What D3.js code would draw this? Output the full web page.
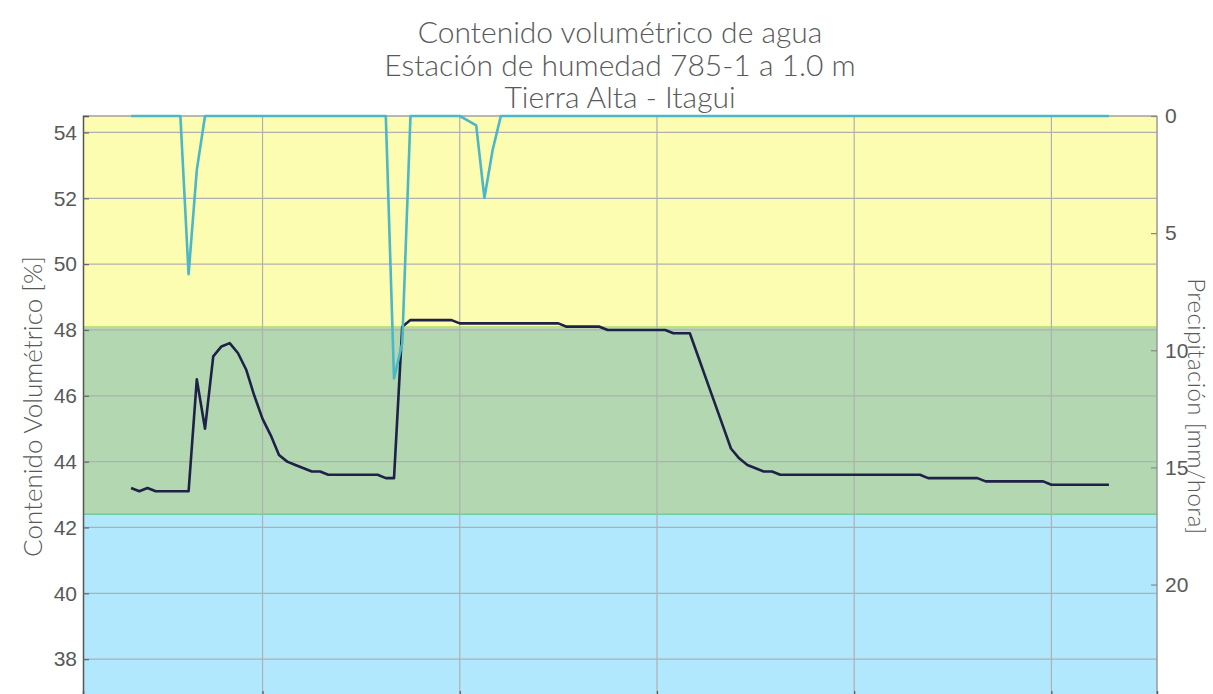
<!DOCTYPE html>
<html>
<head>
<meta charset="utf-8">
<script src="https://cdn.jsdelivr.net/npm/d3@7"></script>
<style>
  html, body { margin: 0; padding: 0; background: #fff; }
  svg { display: block; font-family: "Lato", "Open Sans", sans-serif; }
</style>
</head>
<body>
<svg id="chart" width="1213" height="694"></svg>
<script>
// Title lines
const titleLines = [
  "Contenido volumétrico de agua",
  "Estación de humedad 785-1 a 1.0 m",
  "Tierra Alta - Itagui"
];

// Hourly soil volumetric water content [%]
const soilMoisture = [
  43.2, 43.1, 43.2, 43.1, 43.1, 43.1, 43.1, 43.1, 46.5, 45.0, 47.2, 47.5,
  47.6, 47.3, 46.8, 46.0, 45.3, 44.8, 44.2, 44.0, 43.9, 43.8, 43.7, 43.7,
  43.6, 43.6, 43.6, 43.6, 43.6, 43.6, 43.6, 43.5, 43.5, 48.1, 48.3, 48.3,
  48.3, 48.3, 48.3, 48.3, 48.2, 48.2, 48.2, 48.2, 48.2, 48.2, 48.2, 48.2,
  48.2, 48.2, 48.2, 48.2, 48.2, 48.1, 48.1, 48.1, 48.1, 48.1, 48.0, 48.0,
  48.0, 48.0, 48.0, 48.0, 48.0, 48.0, 47.9, 47.9, 47.9, 47.2, 46.5, 45.8,
  45.1, 44.4, 44.1, 43.9, 43.8, 43.7, 43.7, 43.6, 43.6, 43.6, 43.6, 43.6,
  43.6, 43.6, 43.6, 43.6, 43.6, 43.6, 43.6, 43.6, 43.6, 43.6, 43.6, 43.6,
  43.6, 43.5, 43.5, 43.5, 43.5, 43.5, 43.5, 43.5, 43.4, 43.4, 43.4, 43.4,
  43.4, 43.4, 43.4, 43.4, 43.3, 43.3, 43.3, 43.3, 43.3, 43.3, 43.3, 43.3
];

// Hourly precipitation [mm/hora]
const precipitation = [
  0, 0, 0, 0, 0, 0, 0, 6.75, 2.3, 0, 0, 0, 0, 0, 0, 0, 0, 0, 0, 0, 0, 0, 0, 0,
  0, 0, 0, 0, 0, 0, 0, 0, 11.2, 9.7, 0, 0, 0, 0, 0, 0, 0, 0.2, 0.4, 3.5, 1.45, 0, 0, 0,
  0, 0, 0, 0, 0, 0, 0, 0, 0, 0, 0, 0, 0, 0, 0, 0, 0, 0, 0, 0, 0, 0, 0, 0,
  0, 0, 0, 0, 0, 0, 0, 0, 0, 0, 0, 0, 0, 0, 0, 0, 0, 0, 0, 0, 0, 0, 0, 0,
  0, 0, 0, 0, 0, 0, 0, 0, 0, 0, 0, 0, 0, 0, 0, 0, 0, 0, 0, 0, 0, 0, 0, 0
];

// Hour index of each reading, and hours where a new day begins
const hours = soilMoisture.map((_, i) => i);
const dayStartHours = [16, 40, 64, 88, 112];

// Axis ticks
const moistureTicks = [38, 40, 42, 44, 46, 48, 50, 52, 54];
const rainTicks = [0, 5, 10, 15, 20];

// Moisture bands: upper limit of the dry band and lower limit of the saturated band
const saturatedLimit = 48.1;
const dryLimit = 42.4;

const svg = d3.select("#chart");
const plotLeft = 83, plotRight = 1157, plotTop = 116, plotBottom = 697;

const x = d3.scaleLinear().domain([-5.85, 124.85]).range([plotLeft, plotRight]);
const y = d3.scaleLinear().domain([36.85, 54.5]).range([plotBottom, plotTop]);
const yRain = d3.scaleLinear().domain([0, 24.8]).range([plotTop, plotBottom]);

const textColor = "#595959";

// Background bands
const bands = [
  { from: y.domain()[1], to: saturatedLimit, fill: "#fdfdb2" },
  { from: saturatedLimit, to: dryLimit, fill: "#b2d7b1" },
  { from: dryLimit, to: y.domain()[0], fill: "#b2e8fd" }
];
svg.append("g").selectAll("rect").data(bands).join("rect")
  .attr("x", plotLeft).attr("width", plotRight - plotLeft)
  .attr("y", d => y(d.from)).attr("height", d => y(d.to) - y(d.from))
  .attr("fill", d => d.fill);

// Band borders
svg.append("line")
  .attr("x1", plotLeft).attr("x2", plotRight)
  .attr("y1", y(saturatedLimit)).attr("y2", y(saturatedLimit))
  .attr("stroke", "#c6e27c").attr("stroke-width", 1.5);
svg.append("line")
  .attr("x1", plotLeft).attr("x2", plotRight)
  .attr("y1", y(dryLimit)).attr("y2", y(dryLimit))
  .attr("stroke", "#72cba3").attr("stroke-width", 1.5);

// Grid
const grid = svg.append("g").attr("stroke", "#b0b0b0").attr("stroke-width", 1.2);
grid.selectAll(".h").data(moistureTicks).join("line")
  .attr("x1", plotLeft).attr("x2", plotRight)
  .attr("y1", d => y(d)).attr("y2", d => y(d));
grid.selectAll(".v").data(dayStartHours).join("line")
  .attr("x1", d => x(d)).attr("x2", d => x(d))
  .attr("y1", plotTop).attr("y2", plotBottom);

// Frame
svg.append("line").attr("x1", plotLeft).attr("x2", plotRight).attr("y1", plotTop).attr("y2", plotTop)
  .attr("stroke", "#a0a0a0").attr("stroke-width", 1.5);
svg.append("line").attr("x1", plotRight).attr("x2", plotRight).attr("y1", plotTop).attr("y2", plotBottom)
  .attr("stroke", "#9a9a9a").attr("stroke-width", 1.5);

// Left axis
const yAxis = svg.append("g").attr("transform", `translate(${plotLeft},0)`)
  .call(d3.axisRight(y).tickValues(moistureTicks).tickSize(6).tickFormat(d3.format("d")));
yAxis.select(".domain").attr("stroke", "#555").attr("stroke-width", 1.5);
yAxis.selectAll(".tick line").attr("stroke", "#666").attr("stroke-width", 1.2);
yAxis.selectAll(".tick text")
  .attr("x", -6).attr("text-anchor", "end")
  .attr("fill", textColor).attr("font-size", 21).attr("font-weight", 300);

// Right axis
const yRainAxis = svg.append("g").attr("transform", `translate(${plotRight},0)`)
  .call(d3.axisLeft(yRain).tickValues(rainTicks).tickSize(6));
yRainAxis.select(".domain").remove();
yRainAxis.selectAll(".tick line").attr("stroke", "#888").attr("stroke-width", 1.2);
yRainAxis.selectAll(".tick text")
  .attr("x", 8).attr("text-anchor", "start")
  .attr("fill", textColor).attr("font-size", 21).attr("font-weight", 300);

// Bottom axis (day boundaries)
const xAxis = svg.append("g").attr("transform", `translate(0,${plotBottom})`)
  .call(d3.axisTop(x).tickValues(dayStartHours).tickSize(6).tickFormat(""));
xAxis.select(".domain").attr("stroke", "#555").attr("stroke-width", 1.5);
xAxis.selectAll(".tick line").attr("stroke", "#555").attr("stroke-width", 1.2);

// Soil moisture line
const soilLine = d3.line().x((d, i) => x(hours[i])).y(d => y(d));
svg.append("path").datum(soilMoisture)
  .attr("d", soilLine)
  .attr("fill", "none").attr("stroke", "#1e2148").attr("stroke-width", 2.6)
  .attr("stroke-linejoin", "round");

// Precipitation line (inverted scale from the top)
const rainLine = d3.line().x((d, i) => x(hours[i])).y(d => yRain(d));
svg.append("path").datum(precipitation)
  .attr("d", rainLine)
  .attr("fill", "none").attr("stroke", "#4cb7c7").attr("stroke-width", 2.6)
  .attr("stroke-linejoin", "round");

// Title
svg.append("g").selectAll("text").data(titleLines).join("text")
  .attr("x", (plotLeft + plotRight) / 2).attr("y", (d, i) => 43 + i * 32.5)
  .attr("text-anchor", "middle")
  .attr("fill", textColor).attr("font-size", 30).attr("font-weight", 300)
  .text(d => d);

// Axis titles
svg.append("text")
  .attr("transform", `translate(42,${(plotTop + plotBottom) / 2}) rotate(-90)`)
  .attr("text-anchor", "middle")
  .attr("fill", textColor).attr("font-size", 26).attr("font-weight", 300)
  .text("Contenido Volumétrico [%]");
svg.append("text")
  .attr("transform", `translate(1188,${(plotTop + plotBottom) / 2}) rotate(90)`)
  .attr("text-anchor", "middle")
  .attr("fill", textColor).attr("font-size", 24).attr("font-weight", 300)
  .attr("letter-spacing", 0.4)
  .text("Precipitación [mm/hora]");
</script>
</body>
</html>
